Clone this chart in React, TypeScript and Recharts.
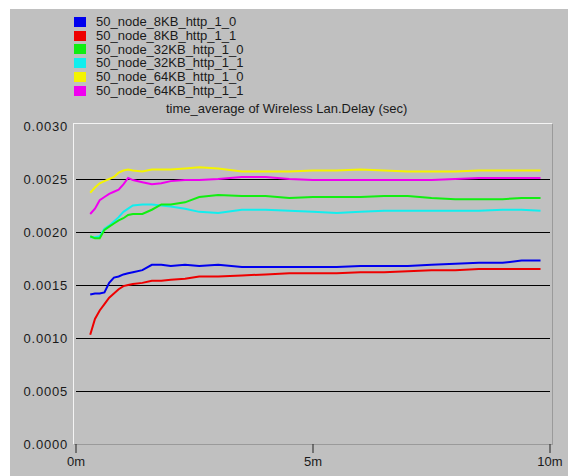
import React from 'react';
import { LineChart, Line, XAxis, YAxis, ReferenceLine } from 'recharts';

// simulation time (minutes)
const times = [0.3, 0.4, 0.5, 0.6, 0.7, 0.8, 0.9, 1.0, 1.1, 1.2, 1.4, 1.6, 1.8, 2.0, 2.3, 2.6, 3.0, 3.5, 4.0, 4.5, 5.0, 5.5, 6.0, 6.5, 7.0, 7.5, 8.0, 8.5, 9.0, 9.4, 9.8];

const kb8_0 = [0.00141, 0.00142, 0.00142, 0.00143, 0.00152, 0.00157, 0.00158, 0.0016, 0.00161, 0.00162, 0.00164, 0.00169, 0.00169, 0.00168, 0.00169, 0.00168, 0.00169, 0.00167, 0.00167, 0.00167, 0.00167, 0.00167, 0.00168, 0.00168, 0.00168, 0.00169, 0.0017, 0.00171, 0.00171, 0.00173, 0.00173];
const kb8_1 = [0.00103, 0.00118, 0.00126, 0.00132, 0.00138, 0.00142, 0.00146, 0.00149, 0.0015, 0.00151, 0.00152, 0.00154, 0.00154, 0.00155, 0.00156, 0.00158, 0.00158, 0.00159, 0.0016, 0.00161, 0.00161, 0.00161, 0.00162, 0.00162, 0.00163, 0.00164, 0.00164, 0.00165, 0.00165, 0.00165, 0.00165];
const kb32_0 = [0.00196, 0.00194, 0.00194, 0.00202, 0.00205, 0.00208, 0.00211, 0.00213, 0.00216, 0.00217, 0.00217, 0.00221, 0.00226, 0.00226, 0.00228, 0.00233, 0.00235, 0.00234, 0.00234, 0.00232, 0.00233, 0.00233, 0.00233, 0.00234, 0.00234, 0.00232, 0.00231, 0.00231, 0.00231, 0.00232, 0.00232];
const kb32_1 = [0.00195, 0.00195, 0.00196, 0.00203, 0.00206, 0.0021, 0.00214, 0.00219, 0.00222, 0.00225, 0.00226, 0.00226, 0.00225, 0.00224, 0.00222, 0.00219, 0.00218, 0.00221, 0.00221, 0.0022, 0.00219, 0.00218, 0.00219, 0.0022, 0.0022, 0.0022, 0.0022, 0.0022, 0.00221, 0.00221, 0.0022];
const kb64_0 = [0.00237, 0.00242, 0.00246, 0.00248, 0.0025, 0.00252, 0.00256, 0.00258, 0.00259, 0.00258, 0.00257, 0.00259, 0.00259, 0.00259, 0.0026, 0.00261, 0.0026, 0.00257, 0.00257, 0.00257, 0.00258, 0.00258, 0.00259, 0.00258, 0.00257, 0.00257, 0.00257, 0.00258, 0.00258, 0.00258, 0.00258];
const kb64_1 = [0.00217, 0.00222, 0.0023, 0.00233, 0.00236, 0.00238, 0.0024, 0.00245, 0.00251, 0.00249, 0.00247, 0.00245, 0.00246, 0.00248, 0.00249, 0.00249, 0.0025, 0.00252, 0.00252, 0.0025, 0.00249, 0.00249, 0.00249, 0.00249, 0.00249, 0.00249, 0.0025, 0.00251, 0.00251, 0.00251, 0.00251];

const seriesNames = ['50_node_8KB_http_1_0', '50_node_8KB_http_1_1', '50_node_32KB_http_1_0', '50_node_32KB_http_1_1', '50_node_64KB_http_1_0', '50_node_64KB_http_1_1'];
const seriesValues = [kb8_0, kb8_1, kb32_0, kb32_1, kb64_0, kb64_1];
const COLORS = ['#0000ee', '#ee0000', '#11ee11', '#11eeee', '#f4f400', '#f000f0'];

const yTicks = [0, 0.0005, 0.001, 0.0015, 0.002, 0.0025, 0.003];
const gridValues = [0.0005, 0.001, 0.0015, 0.002, 0.0025];
const xTicks = [0, 5, 10];

const chartTitle = 'time_average of Wireless Lan.Delay (sec)';

const data = times.map((t, i) => {
  const row: Record<string, number> = { t };
  seriesNames.forEach((name, s) => {
    row[name] = seriesValues[s][i];
  });
  return row;
});

// draw cyan under green so green sits on top where they overlap
const drawOrder = [0, 1, 3, 2, 4, 5];

const FONT = 'Arial, "Liberation Sans", sans-serif';

// legend is kept outside the chart so it doesn't eat into the plot height
const LegendBox = () => (
  <div style={{ position: 'absolute', left: 74, top: 15, fontFamily: FONT, fontSize: 13, color: '#1a1a1a' }}>
    {seriesNames.map((name, i) => (
      <div key={name} style={{ display: 'flex', alignItems: 'center', height: 13.8 }}>
        <span style={{ width: 12, height: 10, background: COLORS[i], marginRight: 10, display: 'inline-block' }} />
        <span style={{ lineHeight: '13.8px' }}>{name}</span>
      </div>
    ))}
  </div>
);

export default function App() {
  return (
    <div style={{ position: 'fixed', left: 0, top: 0, width: 568, height: 476, background: '#fff', overflow: 'hidden' }}>
      {/* gray panel */}
      <div style={{ position: 'absolute', left: 10, top: 9, right: 0, bottom: 0, background: '#c0c0c0' }} />
      {/* plot frame */}
      <div
        style={{
          position: 'absolute',
          left: 73,
          top: 123,
          width: 478,
          height: 320,
          borderLeft: '1px solid #f4f4f4',
          borderTop: '1px solid #f4f4f4',
          borderRight: '1px solid #9a9a9a',
          borderBottom: '1px solid #9a9a9a',
        }}
      />
      <LegendBox />
      <div
        style={{
          position: 'absolute',
          left: 166,
          top: 101,
          fontFamily: FONT,
          fontSize: 13,
          color: '#1a1a1a',
          whiteSpace: 'nowrap',
        }}
      >
        {chartTitle}
      </div>
      <div style={{ position: 'absolute', left: 0, top: 0 }}>
        <LineChart width={568} height={476} data={data} margin={{ top: 126, right: 18, bottom: 12, left: 16 }}>
          <XAxis
            dataKey="t"
            type="number"
            domain={[0, 10]}
            ticks={xTicks}
            tickFormatter={(v: number) => `${v}m`}
            axisLine={false}
            tickLine={{ stroke: '#222' }}
            tickSize={9}
            tickMargin={4}
            height={20}
            tick={{ fill: '#1a1a1a', fontSize: 13, fontFamily: FONT }}
          />
          <YAxis
            type="number"
            domain={[0, 0.003]}
            ticks={yTicks}
            tickFormatter={(v: number) => v.toFixed(4)}
            axisLine={false}
            tickLine={false}
            width={60}
            tick={{ fill: '#1a1a1a', fontSize: 13, fontFamily: FONT, letterSpacing: 0.8 }}
          />
          {gridValues.map(v => (
            <ReferenceLine key={v} y={v} stroke="#000" strokeWidth={1} shapeRendering="crispEdges" />
          ))}
          {drawOrder.map(i => (
            <Line
              key={seriesNames[i]}
              type="linear"
              dataKey={seriesNames[i]}
              stroke={COLORS[i]}
              strokeWidth={2}
              dot={false}
              isAnimationActive={false}
            />
          ))}
        </LineChart>
      </div>
    </div>
  );
}
